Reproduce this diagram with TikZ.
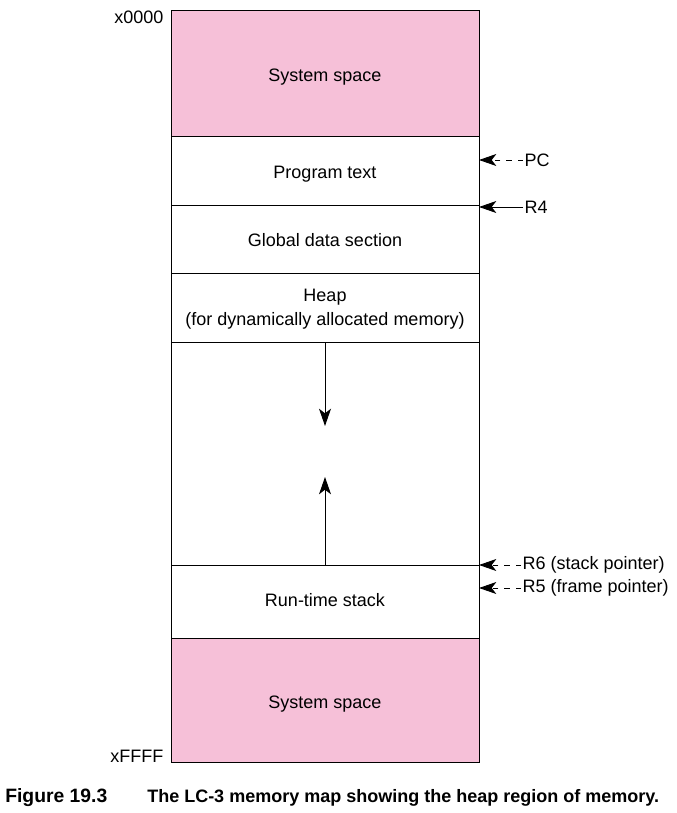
\documentclass[tikz,border=0pt]{standalone}
\usepackage{fontspec}
\setmainfont{Liberation Sans}
\usepackage{xcolor}
\usetikzlibrary{arrows.meta,positioning}

\definecolor{syspink}{RGB}{246,192,216}
\tikzset{
  region/.style={rectangle,draw,line width=0.6pt,outer sep=0pt,minimum width=231pt},
  rtext/.style={anchor=base,align=center,font=\fontsize{13.5}{18}\selectfont,inner sep=0pt},
  ptr/.style={-{Stealth[length=13pt,width=9pt,inset=3.5pt]},line width=0.7pt},
  lbl/.style={font=\fontsize{13.5}{16}\selectfont,inner sep=1pt}
}

\begin{document}
\begin{tikzpicture}[x=0.75pt,y=-0.75pt,node distance=0pt]
    \useasboundingbox (0,0) rectangle (677,813);
    \node[region,fill=syspink,minimum height=94.5pt,anchor=north] (systop) at (325,10) {};
    \node[region,minimum height=51.75pt,below=of systop] (prog) {};
    \node[region,minimum height=51pt,below=of prog] (global) {};
    \node[region,minimum height=51.75pt,below=of global] (heap) {};
    \node[region,minimum height=167.25pt,below=of heap] (free) {};
    \node[region,minimum height=54.75pt,below=of free] (stack) {};
    \node[region,fill=syspink,minimum height=93pt,below=of stack] (sysbot) {};

    % region texts
    \node[rtext] (systoptxt) at (325,82) {System space};
    \node[rtext] (progtxt) at (325,178) {Program text};
    \node[rtext] (globaltxt) at (325,246) {Global data section};
    \node[rtext,anchor=north] (heaptxt) at (325,289) {Heap\\(for dynamically allocated memory)};
    \node[rtext] (stacktxt) at (325,606) {Run-time stack};
    \node[rtext] (sysbottxt) at (325,708) {System space};

    % addresses
    \node[lbl,anchor=east] (lo) at (165,17) {x0000};
    \node[lbl,anchor=east] (hi) at (165,756) {xFFFF};

    % heap and stack grow toward each other
    \coordinate (heapend) at (325,426);
    \coordinate (stackend) at (325,477);
    \draw[ptr] (heap.south) -- (heapend);
    \draw[ptr] (stack.north) -- (stackend);

    % registers
    \node[lbl,anchor=west] (pc) at (523,160) {PC};
    \node[lbl,anchor=west] (rfour) at (523,207) {R4};
    \node[lbl,anchor=west] (rsix) at (521,565) {R6 (stack pointer)};
    \node[lbl,anchor=west] (rfive) at (521,588) {R5 (frame pointer)};
    \draw[ptr,dash pattern=on 4pt off 4.5pt] (pc.west) -- (pc.west -| prog.east);
    \draw[ptr] (rfour.west) -- (rfour.west -| prog.east);
    \draw[ptr,dash pattern=on 4pt off 4.5pt] (rsix.west) -- (rsix.west -| stack.east);
    \draw[ptr,dash pattern=on 4pt off 4.5pt] (rfive.west) -- (rfive.west -| stack.east);

    % caption
    \node[anchor=base west,font=\bfseries\fontsize{14.5}{16}\selectfont,inner sep=0pt] (fignum) at (5,802) {Figure 19.3};
    \node[anchor=base west,font=\bfseries\fontsize{13.5}{16}\selectfont,inner sep=0pt] (figcap) at (147,802) {The LC-3 memory map showing the heap region of memory.};
\end{tikzpicture}
\end{document}
